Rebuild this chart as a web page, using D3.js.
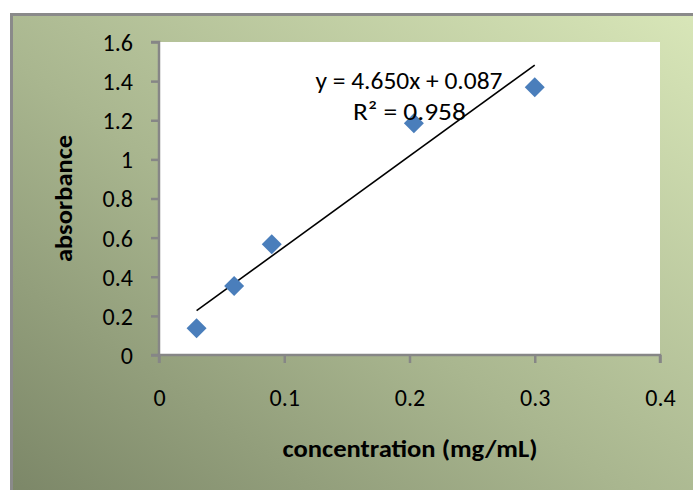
<!DOCTYPE html>
<html>
<head>
<meta charset="utf-8">
<script src="https://cdn.jsdelivr.net/npm/d3@7/dist/d3.min.js"></script>
<style>
  html, body { margin: 0; padding: 0; background: #ffffff; }
  svg { display: block; }
  text { font-family: Carlito, "Liberation Sans Narrow", "Open Sans", sans-serif; }
</style>
</head>
<body>
<svg id="chart" width="693" height="490"></svg>
<script>
// ---- data ----
const concentration = [0.030, 0.060, 0.090, 0.2035, 0.300];
const absorbance    = [0.137, 0.353, 0.566, 1.185, 1.369];
const trendSlope = [4.650];
const trendIntercept = [0.087];
const xTicks = [0, 0.1, 0.2, 0.3, 0.4];
const yTicks = [0, 0.2, 0.4, 0.6, 0.8, 1, 1.2, 1.4, 1.6];
const xTitle = "concentration (mg/mL)";
const yTitle = "absorbance";
const eqText = "y = 4.650x + 0.087";
const r2Text = "R² = 0.958";

const svg = d3.select("#chart");
const W = 693, H = 490;
const plot = { left: 159, right: 660, top: 42, bottom: 355 };
const FONT = 'Carlito, "Liberation Sans Narrow", "Open Sans", sans-serif';

// background gradient
const defs = svg.append("defs");
const grad = defs.append("linearGradient").attr("id", "bg")
  .attr("x1", "0%").attr("y1", "100%").attr("x2", "100%").attr("y2", "0%");
grad.append("stop").attr("offset", "0%").attr("stop-color", "#7c8768");
grad.append("stop").attr("offset", "45%").attr("stop-color", "#a9b68f");
grad.append("stop").attr("offset", "100%").attr("stop-color", "#d8e6b8");

svg.append("rect").attr("x", 0).attr("y", 0).attr("width", W).attr("height", H).attr("fill", "#ffffff");
svg.append("rect").attr("x", 11).attr("y", 14).attr("width", W - 11).attr("height", H - 14)
  .attr("fill", "url(#bg)");
// frame border (left and top)
svg.append("line").attr("x1", 11.5).attr("x2", 11.5).attr("y1", 13).attr("y2", H)
  .attr("stroke", "#8a8a8a").attr("stroke-width", 3);
svg.append("line").attr("x1", 10).attr("x2", W).attr("y1", 14.5).attr("y2", 14.5)
  .attr("stroke", "#8a8a8a").attr("stroke-width", 3);

// plot area
svg.append("rect").attr("x", plot.left).attr("y", plot.top)
  .attr("width", plot.right - plot.left).attr("height", plot.bottom - plot.top)
  .attr("fill", "#ffffff");

const x = d3.scaleLinear().domain([0, 0.4]).range([plot.left, plot.right]);
const y = d3.scaleLinear().domain([0, 1.6]).range([plot.bottom, plot.top]);

const fmt = d => d3.format("")(+d.toFixed(1));

// axes
const xAxis = d3.axisBottom(x).tickValues(xTicks).tickSize(8).tickFormat(fmt);
const yAxis = d3.axisLeft(y).tickValues(yTicks).tickSize(8).tickFormat(fmt).tickPadding(18);

const gx = svg.append("g").attr("transform", `translate(0,${plot.bottom})`).call(xAxis);
const gy = svg.append("g").attr("transform", `translate(${plot.left},0)`).call(yAxis);
[gx, gy].forEach(g => {
  g.select(".domain").attr("stroke", "#868686").attr("stroke-width", 2.5);
  g.selectAll(".tick line").attr("stroke", "#868686").attr("stroke-width", 2.5);
  g.selectAll(".tick text").attr("fill", "#000").attr("font-size", 24)
    .style("font-family", FONT);
});
gx.select(".domain").attr("d", `M${plot.left},8V0H${plot.right}V8`);
gy.select(".domain").attr("d", `M-8,${plot.bottom}H0V${plot.top}H-8`);
gx.selectAll(".tick text").attr("dy", "0.35em").attr("y", 43);
gy.selectAll(".tick text").attr("dy", "0.35em");

// trendline
const x0 = d3.min(concentration), x1 = d3.max(concentration);
svg.append("line")
  .attr("x1", x(x0)).attr("y1", y(trendSlope[0] * x0 + trendIntercept[0]))
  .attr("x2", x(x1)).attr("y2", y(trendSlope[0] * x1 + trendIntercept[0]))
  .attr("stroke", "#000").attr("stroke-width", 1.6);

// markers
const diamond = d3.symbol().type(d3.symbolSquare).size(200);
const pts = concentration.map((c, i) => ({ c, a: absorbance[i] }));
svg.append("g").selectAll("path").data(pts).join("path")
  .attr("d", diamond)
  .attr("transform", d => `translate(${x(d.c)},${y(d.a)}) rotate(45)`)
  .attr("fill", "#4a7ebb");

// equation labels
svg.append("text").attr("x", 409).attr("y", 89).attr("text-anchor", "middle")
  .attr("font-size", 25).attr("fill", "#000")
  .attr("textLength", 187).attr("lengthAdjust", "spacingAndGlyphs").text(eqText);
svg.append("text").attr("x", 409.5).attr("y", 120).attr("text-anchor", "middle")
  .attr("font-size", 25).attr("fill", "#000")
  .attr("textLength", 113).attr("lengthAdjust", "spacingAndGlyphs").text(r2Text);

// axis titles
svg.append("text").attr("x", 410).attr("y", 457).attr("text-anchor", "middle")
  .attr("font-size", 25).attr("font-weight", "bold").attr("fill", "#000")
  .attr("textLength", 255).attr("lengthAdjust", "spacingAndGlyphs").text(xTitle);
svg.append("text").attr("transform", "translate(72,198.5) rotate(-90)").attr("text-anchor", "middle")
  .attr("font-size", 25).attr("font-weight", "bold").attr("fill", "#000")
  .attr("textLength", 127).attr("lengthAdjust", "spacingAndGlyphs").text(yTitle);
</script>
</body>
</html>
